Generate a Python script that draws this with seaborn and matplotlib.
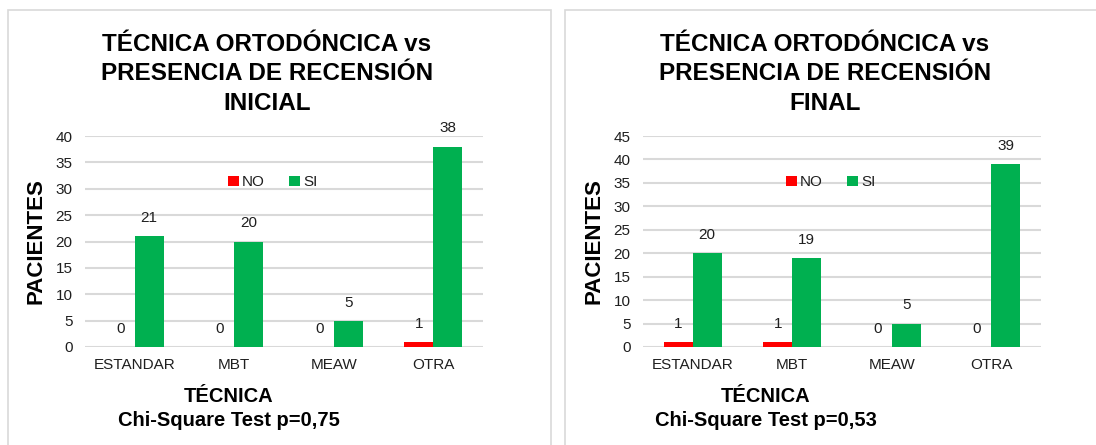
import matplotlib
matplotlib.use("Agg")
import matplotlib.pyplot as plt
import pandas as pd
import seaborn as sns
from matplotlib.patches import Rectangle

# ── Data ────────────────────────────────────────────────────────────────
tecnicas = ["ESTANDAR", "MBT", "MEAW", "OTRA"]
respuestas = ["NO", "SI"]
inicial_no = [0, 0, 0, 1]
inicial_si = [21, 20, 5, 38]
final_no = [1, 1, 0, 0]
final_si = [20, 19, 5, 39]
titulos = ["TÉCNICA ORTODÓNCICA vs\nPRESENCIA DE RECENSIÓN\nINICIAL",
           "TÉCNICA ORTODÓNCICA vs\nPRESENCIA DE RECENSIÓN\nFINAL"]
p_valores = ["0,75", "0,53"]
y_max = [40, 45]

colores = {"NO": "#FF0000", "SI": "#00B050"}
GRIS = "#D9D9D9"
TEXTO = "#1f1f1f"


def to_long(no, si):
    return pd.DataFrame({
        "tecnica": tecnicas * 2,
        "respuesta": ["NO"] * len(no) + ["SI"] * len(si),
        "pacientes": no + si,
    })


sns.set_theme(style="white")
plt.rcParams["font.family"] = ["Liberation Sans", "DejaVu Sans"]

fig = plt.figure(figsize=(10.96, 4.45), dpi=100)
W, H = 1096, 445

# panel borders
for x0, x1 in [(8, 551), (565, 1100)]:
    fig.add_artist(Rectangle((x0 / W, -0.05), (x1 - x0) / W, 1 - 10 / H + 0.05,
                             transform=fig.transFigure, fill=False,
                             edgecolor=GRIS, linewidth=1.2))

ax_left = [85, 643]
datasets = [to_long(inicial_no, inicial_si), to_long(final_no, final_si)]

for i, df in enumerate(datasets):
    ax = fig.add_axes([ax_left[i] / W, (H - 347) / H, 398 / W, 211 / H])
    sns.barplot(data=df, x="tecnica", y="pacientes", hue="respuesta",
                order=tecnicas, hue_order=respuestas, palette=colores,
                width=0.58, gap=0, saturation=1, linewidth=0, ax=ax)

    for cont in ax.containers:
        ax.bar_label(cont, fmt="%d", padding=8, fontsize=11, color=TEXTO)

    ax.set_xlim(-0.5, 3.5)
    ax.set_ylim(0, y_max[i])
    ax.set_yticks(range(0, y_max[i] + 1, 5))
    ax.grid(axis="y", color=GRIS, linewidth=1.5)
    ax.set_axisbelow(True)
    sns.despine(ax=ax, left=True, bottom=True)
    ax.tick_params(axis="both", length=0, labelsize=11, labelcolor=TEXTO)
    ax.tick_params(axis="y", pad=9)
    ax.tick_params(axis="x", pad=8)

    ax.set_ylabel("PACIENTES", fontsize=16, fontweight="bold", color="black",
                  va="center")
    ax.yaxis.set_label_coords((36 - 85) / 398, 0.502)
    ax.set_xlabel("TÉCNICA", fontsize=14.5, fontweight="bold", color="black")
    lx = (229 - 85) / 398 if i == 0 else (766 - 643) / 398
    ax.xaxis.set_label_coords(lx, (347 - 397) / 211)
    ax.xaxis.label.set_verticalalignment("center")
    ax.text(lx, (347 - 421) / 211, f"Chi-Square Test p={p_valores[i]}",
            transform=ax.transAxes, ha="center", va="center",
            fontsize=14.5, fontweight="bold", color="black")

    ax.text(0.457, (347 - 74) / 211, titulos[i], transform=ax.transAxes,
            ha="center", va="center", fontsize=17.5, fontweight="bold",
            color="black", linespacing=1.34)

    sns.move_legend(ax, loc="center", bbox_to_anchor=(0.472, 0.78), ncol=2,
                    frameon=False, title=None, fontsize=11,
                    handlelength=0.7, handleheight=0.7, handletextpad=0.2,
                    columnspacing=1.6, labelcolor=TEXTO)

fig.savefig("out.png", dpi=100)
